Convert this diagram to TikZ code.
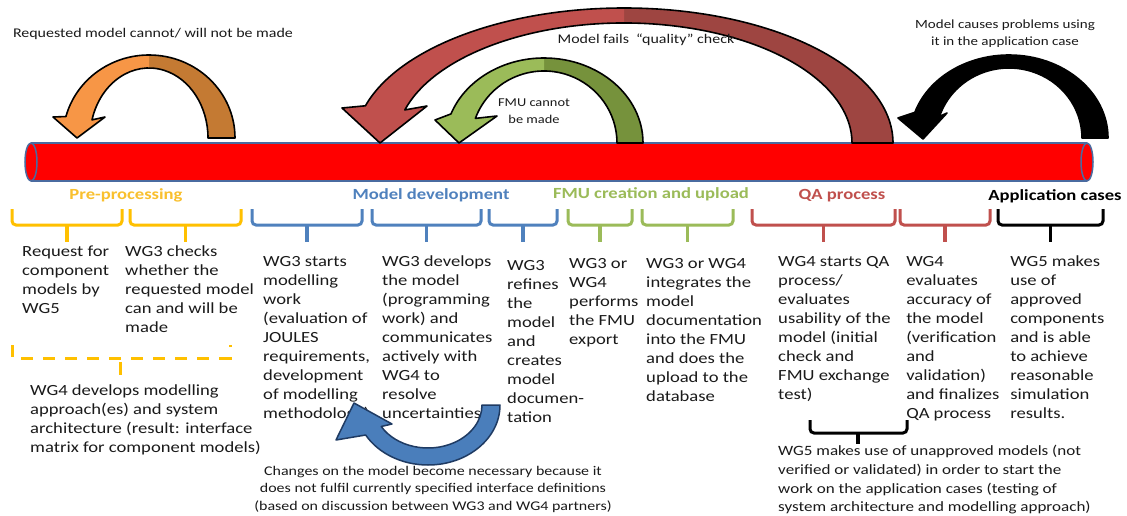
\documentclass[tikz,border=0pt]{standalone}
\usepackage{fontspec}
\setmainfont{Carlito}
\usetikzlibrary{calc}
\definecolor{ppY}{HTML}{FFC000}
\definecolor{ppYt}{HTML}{F9C02E}
\definecolor{ppB}{HTML}{4F81BD}
\definecolor{ppG}{HTML}{9BBB59}
\definecolor{ppR}{HTML}{C0504D}
\definecolor{orL}{HTML}{F79646}
\definecolor{orR}{HTML}{C47A33}
\definecolor{rdL}{HTML}{C0504D}
\definecolor{rdR}{HTML}{9E4541}
\definecolor{grL}{HTML}{9BBB59}
\definecolor{grR}{HTML}{76923C}
\definecolor{bkL}{HTML}{000000}
\definecolor{bkR}{HTML}{000000}
\definecolor{blL}{HTML}{4A7EBB}
\definecolor{blR}{HTML}{4A7EBB}
\definecolor{blEdge}{HTML}{1F3B63}
\definecolor{pipeRed}{HTML}{FF0000}
\definecolor{pipeEdge}{HTML}{4A6BA0}
\definecolor{txt}{HTML}{1A1A1A}

% curved block arrow: cx, cy, outer rx, outer ry, inner rx, inner ry, end angle, head path, colour prefix
\newcommand{\curvarrow}[9]{%
  \pgfmathsetmacro\myspl{#7/abs(#7)*90}%
  \fill[#9R] ({#1+#3},{#2}) arc[start angle=0,end angle=\myspl,x radius=#3,y radius=#4]
     -- ({#1},{#2+#6*sin(\myspl)}) arc[start angle=\myspl,end angle=0,x radius=#5,y radius=#6] -- cycle;
  \fill[#9L] ({#1},{#2+#4*sin(\myspl)}) arc[start angle=\myspl,end angle=#7,x radius=#3,y radius=#4]
     -- #8 -- ({#1+#5*cos(#7)},{#2+#6*sin(#7)}) arc[start angle=#7,end angle=\myspl,x radius=#5,y radius=#6] -- cycle;
  \draw[arrowline] ({#1+#3},{#2}) arc[start angle=0,end angle=#7,x radius=#3,y radius=#4]
     -- #8 -- ({#1+#5*cos(#7)},{#2+#6*sin(#7)}) arc[start angle=#7,end angle=0,x radius=#5,y radius=#6] -- cycle;
}
\newcommand{\phasebrace}[3]{%
  \draw[brace,#3] (#1,209) -- (#1,225) -- (#2,225) -- (#2,209);
  \draw[tick,#3] ({(#1+#2)/2},224) -- ({(#1+#2)/2},242);
}

\begin{document}
\begin{tikzpicture}[x=1pt,y=-1pt,
  body/.style={font=\fontsize{15.5}{19}\selectfont, align=left, anchor=north west, inner sep=0pt, xscale=1.2, text=txt},
  small/.style={font=\fontsize{13.3}{17.5}\selectfont, align=center, inner sep=0pt, xscale=1.2, text=txt},
  phase/.style={font=\bfseries\fontsize{15.5}{19}\selectfont, inner sep=0pt, xscale=1.2},
  brace/.style={line width=3pt, rounded corners=4pt},
  tick/.style={line width=3.5pt},
  arrowline/.style={draw=black, line width=1.6pt, line join=round},
]
\fill[white] (0,0) rectangle (1127,516);
\useasboundingbox (0,0) rectangle (1127,516);

% pipe
\fill[pipeRed] (31,143) -- (1087,143) arc[start angle=-90,end angle=90,x radius=6,y radius=19]
   -- (31,181) arc[start angle=90,end angle=270,x radius=6,y radius=19] -- cycle;
\draw[pipeEdge, line width=1.5pt] (31,143) -- (1087,143) (31,181) -- (1087,181);
\draw[pipeEdge, line width=1.5pt] (1087,162) ellipse [x radius=6, y radius=19];
\draw[pipeEdge, line width=1.5pt] (31,162) ellipse [x radius=6, y radius=19];

% top arrows
\curvarrow{149}{138}{86}{83}{59}{70}{-165}{(53,117) -- (77,138) -- (105,117)}{or}
\curvarrow{624}{143}{269}{135}{228}{120}{-164}{(342,108) -- (380,143) -- (427,106)}{rd}
\curvarrow{544}{143}{99}{85}{73}{72}{-160}{(435,120) -- (459,143) -- (497,116)}{gr}
\curvarrow{1009}{138}{99}{83}{73}{70}{-162}{(898,118) -- (923,139) -- (947,113)}{bk}

% top labels
\node[small] (lreq) at (153,34) {Requested model cannot/ will not be made};
\node[small] (lqual) at (646,40) {Model fails ~“quality” check};
\node[small, font=\fontsize{12}{17}\selectfont] (lfmu) at (534,111) {FMU cannot\\be made};
\node[small, font=\fontsize{12.5}{17}\selectfont] (lapp) at (1005,34) {Model causes problems using\\it in the application case};

% phase labels
\node[phase, text=ppYt] (ph1) at (126,195) {Pre-processing};
\node[phase, text=ppB] (ph2) at (431,195) {Model development};
\node[phase, text=ppG] (ph3) at (651,194) {FMU creation and upload};
\node[phase, text=ppR] (ph4) at (842,196) {QA process};
\node[phase, text=black] (ph5) at (1055,196) {Application cases};

% braces
\phasebrace{12}{122}{ppY}
\phasebrace{130}{241}{ppY}
\phasebrace{252}{362}{ppB}
\phasebrace{372}{481}{ppB}
\phasebrace{489}{557}{ppB}
\phasebrace{568}{632}{ppG}
\phasebrace{642}{733}{ppG}
\phasebrace{752}{895}{ppR}
\phasebrace{900}{990}{ppR}
\phasebrace{998}{1103}{black}

% step texts
\node[body] (t1) at (22,246) {Request for\\component\\models by\\WG5};
\node[body] (t2) at (125,246) {WG3 checks\\whether the\\requested model\\can and will be\\made};
\node[body] (t3) at (263,256) {WG3 starts\\modelling\\work\\(evaluation of\\JOULES\\requirements,\\development\\of modelling\\methodology)};
\node[body] (t4) at (382,256) {WG3 develops\\the model\\(programming\\work) and\\communicates\\actively with\\WG4 to\\resolve\\uncertainties};
\node[body] (t5) at (507,260) {WG3\\refines\\the\\model\\and\\creates\\model\\documen-\\tation};
\node[body] (t6) at (569,258) {WG3 or\\WG4\\performs\\the FMU\\export};
\node[body] (t7) at (646,258) {WG3 or WG4\\integrates the\\model\\documentation\\into the FMU\\and does the\\upload to the\\database};
\node[body] (t8) at (778,256) {WG4 starts QA\\process/\\evaluates\\usability of the\\model (initial\\check and\\FMU exchange\\test)};
\node[body] (t9) at (906,256) {WG4\\evaluates\\accuracy of\\the model\\(verification\\and\\validation)\\and finalizes\\QA process};
\node[body] (t10) at (1010,256) {WG5 makes\\use of\\approved\\components\\and is able\\to achieve\\reasonable\\simulation\\results.};

% dashed bracket (pre-processing)
\draw[ppY, line width=3pt, dash pattern=on 12pt off 10pt] (12,345) -- (12,358) -- (230,358) -- (230,345);
\draw[ppY, line width=3pt] (120,362) -- (120,375);
\node[body] (t11) at (30,385) {WG4 develops modelling\\approach(es) and system\\architecture (result: interface\\matrix for component models)};

% bottom black brace
\draw[brace, black] (810,420) -- (810,433) -- (907,433) -- (907,420);
\draw[tick, black] (858,432) -- (858,444);
\node[body, font=\fontsize{14.2}{18.8}\selectfont] (t12) at (778,445) {WG5 makes use of unapproved models (not\\verified or validated) in order to start the\\work on the application cases (testing of\\system architecture and modelling approach)};

% blue loop arrow
\begin{scope}[arrowline/.style={draw=blEdge, line width=1.5pt, line join=round}]
\curvarrow{428}{405}{72}{60}{54}{43}{150}{(336,440) -- (354,403) -- (392,424)}{bl}
\end{scope}
\node[small] (lchg) at (433,489) {Changes on the model become necessary because it\\does not fulfil currently specified interface definitions\\(based on discussion between WG3 and WG4 partners)};
\end{tikzpicture}
\end{document}
